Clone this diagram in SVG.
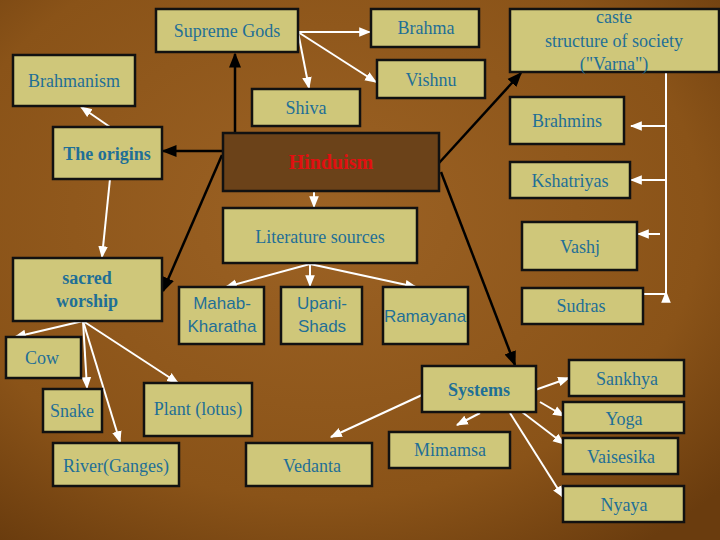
<svg xmlns="http://www.w3.org/2000/svg" width="720" height="540" viewBox="0 0 720 540">
<defs>
<radialGradient id="bg" cx="0.45" cy="0.4" r="0.75">
<stop offset="0" stop-color="#9c6224"/><stop offset="0.7" stop-color="#8a5318"/><stop offset="1" stop-color="#6a3c0e"/>
</radialGradient>
<marker id="wa" viewBox="0 0 10 10" refX="9" refY="5" markerWidth="6" markerHeight="6" orient="auto"><path d="M0,1 L10,5 L0,9 z" fill="#fff"/></marker>
<marker id="ba" viewBox="0 0 10 10" refX="9" refY="5" markerWidth="6" markerHeight="6" orient="auto"><path d="M0,1 L10,5 L0,9 z" fill="#000"/></marker>
<style>
.b{fill:#cfc77a;stroke:#111;stroke-width:2.5}
.t{font-family:"Liberation Serif",serif;font-size:18px;fill:#1f6f96;text-anchor:middle}
.bd{font-weight:bold}
.s{font-family:"Liberation Sans",sans-serif;font-size:17px;fill:#1f6f96;text-anchor:middle}
.w{stroke:#fff;stroke-width:2;fill:none;marker-end:url(#wa)}
.k{stroke:#000;stroke-width:2.5;fill:none;marker-end:url(#ba)}
.wl{stroke:#fff;stroke-width:2;fill:none}
</style>
</defs>
<rect width="720" height="540" fill="url(#bg)"/>
<g id="connectors">
<line class="k" x1="235" y1="133" x2="235" y2="54"/>
<line class="k" x1="223" y1="151" x2="163" y2="151"/>
<line class="k" x1="222" y1="155" x2="163" y2="291"/>
<line class="k" x1="439" y1="163" x2="521" y2="73"/>
<line class="k" x1="441" y1="172" x2="515" y2="365"/>
<line class="w" x1="298" y1="32" x2="370" y2="32"/>
<line class="w" x1="298" y1="32" x2="376" y2="82"/>
<line class="w" x1="298" y1="32" x2="309" y2="88"/>
<line class="w" x1="110" y1="127" x2="81" y2="107"/>
<line class="w" x1="110" y1="179" x2="102" y2="257"/>
<line class="w" x1="314" y1="191" x2="314" y2="207"/>
<line class="w" x1="310" y1="264" x2="226" y2="287"/>
<line class="w" x1="310" y1="264" x2="310" y2="286"/>
<line class="w" x1="310" y1="264" x2="416" y2="287"/>
<line class="w" x1="83" y1="321" x2="15" y2="337"/>
<line class="w" x1="83" y1="321" x2="87" y2="388"/>
<line class="w" x1="83" y1="321" x2="120" y2="442"/>
<line class="w" x1="83" y1="321" x2="178" y2="383"/>
<line class="w" x1="422" y1="395" x2="331" y2="437"/>
<line class="w" x1="480" y1="413" x2="457" y2="425"/>
<line class="w" x1="535" y1="390" x2="569" y2="378"/>
<line class="w" x1="540" y1="402" x2="564" y2="416"/>
<line class="w" x1="522" y1="412" x2="564" y2="444"/>
<line class="w" x1="510" y1="413" x2="563" y2="497"/>
<polyline class="wl" points="666,72 666,292"/>
<line class="w" x1="666" y1="126" x2="631" y2="126"/>
<line class="w" x1="666" y1="180" x2="631" y2="180"/>
<line class="w" x1="660" y1="234" x2="638" y2="234"/>
<polyline class="w" points="643,294 666,294 666,292"/>
</g>
<g id="supreme"><rect class="b" x="156" y="9" width="142" height="43"/><text class="t" x="227" y="37">Supreme Gods</text></g>
<g id="brahmanism"><rect class="b" x="13" y="55" width="122" height="51"/><text class="t" x="74" y="87">Brahmanism</text></g>
<g id="shiva"><rect class="b" x="252" y="89" width="108" height="37"/><text class="t" x="306" y="114">Shiva</text></g>
<g id="origins"><rect class="b" x="53" y="127" width="109" height="52"/><text class="t bd" x="107" y="160">The origins</text></g>
<g id="hinduism"><rect x="223" y="133" width="216" height="58" fill="#6b4219" stroke="#111" stroke-width="2.5"/><text class="t bd" x="331" y="169" style="fill:#e01010;font-size:20px">Hinduism</text></g>
<g id="brahma"><rect class="b" x="371" y="9" width="108" height="38"/><text class="t" x="426" y="34">Brahma</text></g>
<g id="vishnu"><rect class="b" x="377" y="60" width="108" height="38"/><text class="t" x="431" y="86">Vishnu</text></g>
<g id="caste"><rect class="b" x="510" y="9" width="209" height="63"/><text class="t" x="614" y="23">caste</text><text class="t" x="614" y="47">structure of society</text><text class="t" x="614" y="70">("Varna")</text></g>
<g id="brahmins"><rect class="b" x="510" y="97" width="114" height="47"/><text class="t" x="567" y="127">Brahmins</text></g>
<g id="kshatriyas"><rect class="b" x="510" y="162" width="120" height="36"/><text class="t" x="570" y="187">Kshatriyas</text></g>
<g id="vashj"><rect class="b" x="522" y="222" width="115" height="48"/><text class="t" x="580" y="253">Vashj</text></g>
<g id="sudras"><rect class="b" x="522" y="288" width="121" height="36"/><text class="t" x="581" y="312">Sudras</text></g>
<g id="literature"><rect class="b" x="223" y="208" width="194" height="55"/><text class="t" x="320" y="243">Literature sources</text></g>
<g id="sacred"><rect class="b" x="13" y="258" width="149" height="63"/><text class="t bd" x="87" y="284">sacred</text><text class="t bd" x="87" y="307">worship</text></g>
<g id="mahab"><rect class="b" x="179" y="287" width="85" height="57"/><text class="s" x="222" y="309">Mahab-</text><text class="s" x="222" y="332">Kharatha</text></g>
<g id="upani"><rect class="b" x="281" y="287" width="81" height="57"/><text class="s" x="322" y="309">Upani-</text><text class="s" x="322" y="332">Shads</text></g>
<g id="ramayana"><rect class="b" x="383" y="287" width="85" height="57"/><text class="s" x="425" y="322">Ramayana</text></g>
<g id="cow"><rect class="b" x="6" y="337" width="75" height="41"/><text class="t" x="42" y="364">Cow</text></g>
<g id="snake"><rect class="b" x="43" y="389" width="59" height="43"/><text class="t" x="72" y="417">Snake</text></g>
<g id="plant"><rect class="b" x="144" y="383" width="108" height="53"/><text class="t" x="198" y="415">Plant (lotus)</text></g>
<g id="river"><rect class="b" x="53" y="443" width="126" height="43"/><text class="t" x="116" y="472">River(Ganges)</text></g>
<g id="vedanta"><rect class="b" x="246" y="443" width="126" height="43"/><text class="t" x="312" y="472">Vedanta</text></g>
<g id="systems"><rect class="b" x="422" y="366" width="114" height="46"/><text class="t bd" x="479" y="396">Systems</text></g>
<g id="mimamsa"><rect class="b" x="389" y="432" width="121" height="36"/><text class="t" x="450" y="456">Mimamsa</text></g>
<g id="sankhya"><rect class="b" x="569" y="360" width="115" height="36"/><text class="t" x="627" y="385">Sankhya</text></g>
<g id="yoga"><rect class="b" x="563" y="402" width="121" height="31"/><text class="t" x="624" y="425">Yoga</text></g>
<g id="vaisesika"><rect class="b" x="563" y="438" width="115" height="36"/><text class="t" x="621" y="463">Vaisesika</text></g>
<g id="nyaya"><rect class="b" x="563" y="486" width="121" height="36"/><text class="t" x="624" y="511">Nyaya</text></g>
</svg>
